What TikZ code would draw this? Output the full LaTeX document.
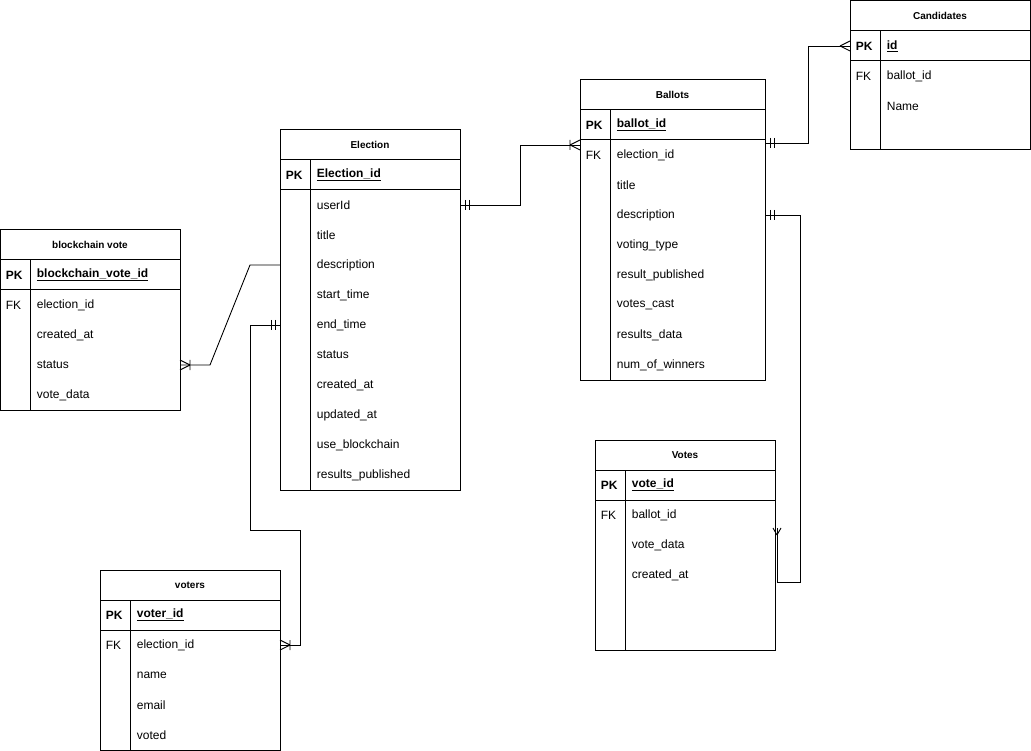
\documentclass[tikz,border=0pt]{standalone}
\usepackage{fontspec}
\setmainfont{Liberation Sans}
\usetikzlibrary{calc}
\newcommand\pkt[1]{\textbf{\underline{#1}}}
\newcommand\ertable[6]{%
 \node[tbl,minimum width=#4pt,minimum height=#5pt,anchor=north west] (#1) at (#2,#3) {};
 \node[font=\bfseries] (#1-t) at ([yshift=-15pt]#1.north) {#6};
 \draw ([yshift=-30pt]#1.north west) -- ([yshift=-30pt]#1.north east);
 \draw ([yshift=-60pt]#1.north west) -- ([yshift=-60pt]#1.north east);
 \draw ([shift={(30pt,-30pt)}]#1.north west) -- ([xshift=30pt]#1.south west);}
\newcommand\errow[4]{%
 \node[cell] (#1-#2) at ([shift={(33pt,{-15pt-30pt*#2})}]#1.north west) {#4};
 \node[cell] (#1-k#2) at ([shift={(2pt,{-15pt-30pt*#2})}]#1.north west) {#3};}
\begin{document}
\begin{tikzpicture}[x=1pt,y=-1pt,line width=1pt,
 tbl/.style={draw,inner sep=0pt,outer sep=0pt},
 cell/.style={anchor=west,font=\fontsize{12}{14}\selectfont},
 conn/.style={line width=0.9pt}]
\useasboundingbox (0,0) rectangle (1031,751);
\tikzset{every node/.append style={font=\fontsize{12}{14}\selectfont}}
\ertable{cand}{850}{1}{180}{149}{Candidates}
\errow{cand}{1}{\textbf{PK}}{\pkt{id}}
\errow{cand}{2}{FK}{ballot\_id}
\errow{cand}{3}{}{Name}
\ertable{ball}{580}{80}{185}{300}{Ballots}
\errow{ball}{1}{\textbf{PK}}{\pkt{ballot\_id}}
\errow{ball}{2}{FK}{election\_id}
\errow{ball}{3}{}{title}
\errow{ball}{4}{}{description}
\errow{ball}{5}{}{voting\_type}
\errow{ball}{6}{}{result\_published}
\errow{ball}{7}{}{votes\_cast}
\errow{ball}{8}{}{results\_data}
\errow{ball}{9}{}{num\_of\_winners}
\ertable{elec}{280}{130}{180}{360}{Election}
\errow{elec}{1}{\textbf{PK}}{\pkt{Election\_id}}
\errow{elec}{2}{}{userId}
\errow{elec}{3}{}{title}
\errow{elec}{4}{}{description}
\errow{elec}{5}{}{start\_time}
\errow{elec}{6}{}{end\_time}
\errow{elec}{7}{}{status}
\errow{elec}{8}{}{created\_at}
\errow{elec}{9}{}{updated\_at}
\errow{elec}{10}{}{use\_blockchain}
\errow{elec}{11}{}{results\_published}
\ertable{bv}{0}{230}{180}{180}{blockchain vote}
\errow{bv}{1}{\textbf{PK}}{\pkt{blockchain\_vote\_id}}
\errow{bv}{2}{FK}{election\_id}
\errow{bv}{3}{}{created\_at}
\errow{bv}{4}{}{status}
\errow{bv}{5}{}{vote\_data}
\ertable{vot}{100}{570}{180}{180}{voters}
\errow{vot}{1}{\textbf{PK}}{\pkt{voter\_id}}
\errow{vot}{2}{FK}{election\_id}
\errow{vot}{3}{}{name}
\errow{vot}{4}{}{email}
\errow{vot}{5}{}{voted}
\ertable{vts}{595}{440}{180}{210}{Votes}
\errow{vts}{1}{\textbf{PK}}{\pkt{vote\_id}}
\errow{vts}{2}{FK}{ballot\_id}
\errow{vts}{3}{}{vote\_data}
\errow{vts}{4}{}{created\_at}
% connectors
\coordinate (a1) at (elec.east |- elec-2);
\coordinate (a2) at ([yshift=-65pt]ball.north west);
\draw[conn] (a1) -- ++(60,0) |- (a2);
\draw[conn] ($(a1)+(5,-5)$) -- ++(0,10) ($(a1)+(9,-5)$) -- ++(0,10);
\draw[conn] ($(a2)+(-10,0)$) -- ($(a2)+(0,-5)$) ($(a2)+(-10,0)$) -- ($(a2)+(0,5)$) ($(a2)+(-10,-5)$) -- ++(0,10);
\coordinate (b1) at ([yshift=-63pt]ball.north east);
\coordinate (b2) at (cand.west |- cand-1);
\draw[conn] (b1) -- ++(43,0) |- (b2);
\draw[conn] ($(b1)+(5,-5)$) -- ++(0,10) ($(b1)+(9,-5)$) -- ++(0,10);
\draw[conn] ($(b2)+(-10,0)$) -- ($(b2)+(0,-5)$) ($(b2)+(-10,0)$) -- ($(b2)+(0,5)$);
\coordinate (c1) at (ball.east |- ball-4);
\coordinate (c2) at ([shift={(2pt,-88pt)}]vts.north east);
\draw[conn] (c1) -- ++(35,0) |- ([shift={(2pt,-142pt)}]vts.north east) -- (c2);
\draw[conn] ($(c1)+(5,-5)$) -- ++(0,10) ($(c1)+(9,-5)$) -- ++(0,10);
\draw[conn] ($(c2)+(0,7)$) -- ($(c2)+(-4,0)$) ($(c2)+(0,7)$) -- ($(c2)+(4,0)$);
\coordinate (d1) at ([yshift=-135pt]elec.north west);
\coordinate (d2) at (bv.east |- bv-4);
\draw[conn] (d1) -- ++(-30,0) -- ($(d2)+(30,0)$) -- (d2);
\draw[conn] ($(d2)+(10,0)$) -- ($(d2)+(0,-5)$) ($(d2)+(10,0)$) -- ($(d2)+(0,5)$) ($(d2)+(10,-5)$) -- ++(0,10);
\coordinate (e1) at (elec.west |- elec-6);
\coordinate (e2) at (vot.east |- vot-2);
\draw[conn] (e1) -- ++(-30,0) -- ++(0,205) -- ($(e2)+(20,-115)$) -- ($(e2)+(20,0)$) -- (e2);
\draw[conn] ($(e1)+(-5,-5)$) -- ++(0,10) ($(e1)+(-9,-5)$) -- ++(0,10);
\draw[conn] ($(e2)+(10,0)$) -- ($(e2)+(0,-5)$) ($(e2)+(10,0)$) -- ($(e2)+(0,5)$) ($(e2)+(10,-5)$) -- ++(0,10);
\end{tikzpicture}
\end{document}
